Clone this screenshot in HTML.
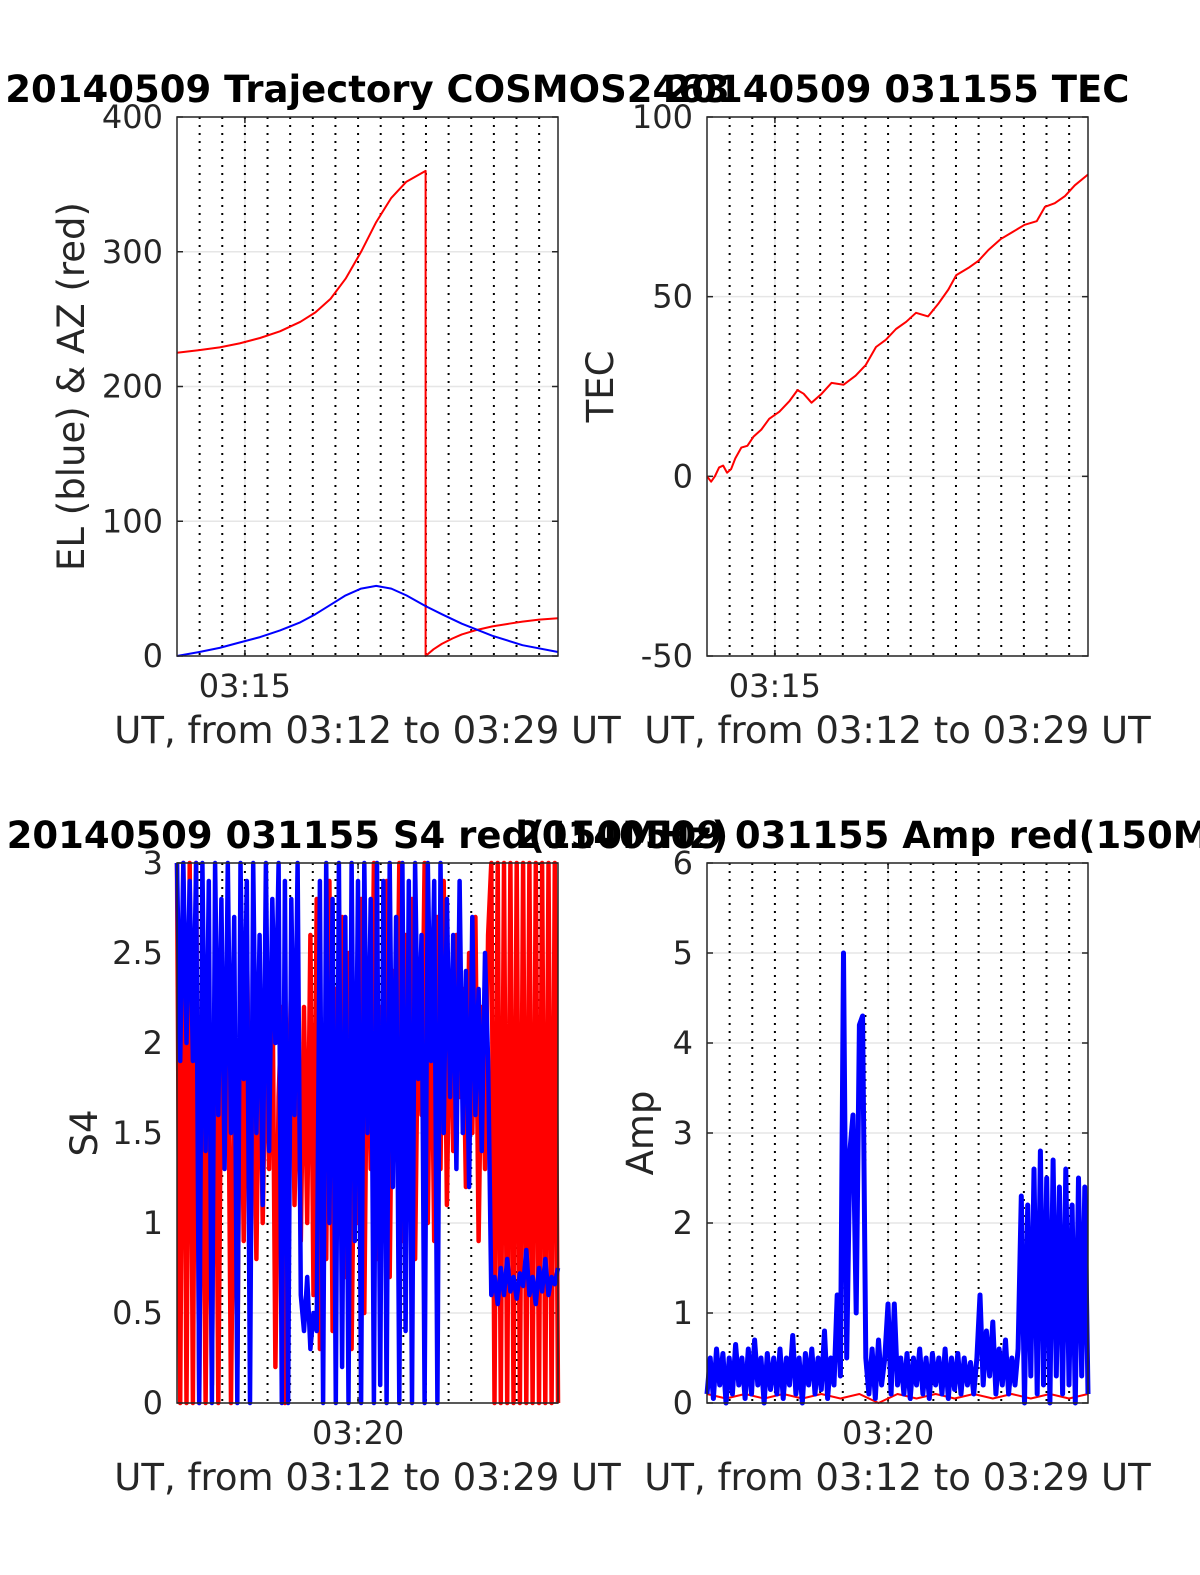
<!DOCTYPE html>
<html><head><meta charset="utf-8"><style>
html,body{margin:0;padding:0;background:#fff;overflow:hidden;width:1200px;height:1575px;}
svg{display:block;font-family:"DejaVu Sans","Liberation Sans",sans-serif;}
</style></head><body>
<svg id="fig" width="1200" height="1575" viewBox="0 0 1200 1575">
<rect x="0" y="0" width="1200" height="1575" fill="#fff"/>
</svg>
<script>
// ---------- data ----------
var trajTimes=[0,59,113,166,220,273,327,367,407,447,488,528,568,608,659,659,680,702,730,755,790,836,880,916,960,1010];
var azValues=[225,227,229,232,236,241,248,255,265,280,300,322,340,352,360,0,5,9,13,16,19,22,24,25.5,27,28];
var elTimes=[0,59,113,166,220,273,327,367,407,447,488,528,568,608,659,702,755,836,916,1010];
var elValues=[0,3,6,10,14,19,25,31,38,45,50,52,50,45,37,31,24,15,8,3];
var tecTimes=[0,11,21,32,43,53,64,75,91,107,123,144,165,192,219,240,256,277,304,330,362,394,421,448,474,501,528,554,586,613,640,661,693,720,746,778,810,842,874,896,922,949,975,1010];
var tecValues=[0,-1.5,0,2.5,3,1,2,5,8,8.5,11,13,16,18,21,24,23,20.5,23,26,25.5,28,31,36,38,41,43,45.5,44.5,48,52,56,58,60,63,66,68,70,71,75,76,78,81,84];
var s4Red=[3,0,3,0,3,0,3,
0,2.2,0,1.9,0.1,2.5,0,2.1,1.4,2.3,0,1.8,0.2,
2.4,0.9,2.6,1.2,2.0,0.8,2.3,1.0,2.1,1.3,2.5,0.2,1.7,2.2,0,1.5,2.4,
1.1,2.0,0.9,2.2,1.0,2.6,
0.6,2.8,0.3,2.0,0.8,2.9,0.4,2.3,1.2,2.7,0.7,2.5,0.3,1.9,1.0,2.8,0.5,2.4,1.3,3,0.8,2.2,
1.0,2.9,0.7,2.4,1.5,3,0.9,2.6,1.2,2.8,0.8,2.3,1.6,3,1.0,2.5,0.9,2.7,1.3,2.9,1.1,2.4,
1.4,2.6,1.7,2.3,1.2,2.5,1.5,2.7,0.9,2.2,1.3,2.6,
3,0,3,0,3,0,3,0,3,0,3,0,3,0,3,0,3,0,3,0,3,0];
var s4Blue=[3,1.9,3,2.0,2.9,1.9,3,
0,3,1.4,2.9,0,3,1.6,2.8,1.3,3,1.5,2.7,0,
3,1.8,2.9,0,3,1.5,2.6,1.1,3,1.4,2.8,2.0,3,0,2.9,0,2.8,
1.6,3,0.6,0.4,0.7,0.3,
0.5,0.4,2.9,0,3,1.0,2.8,0,3,0.2,2.7,0,3,0.9,2.9,0,3,1.5,2.8,0,3,0.1,
2.9,0,3,1.2,2.7,0,3,0.4,2.9,0,3,1.8,2.6,0,3,1.9,2.9,0,3,1.5,2.8,1.7,
2.6,1.3,2.9,1.5,2.4,1.2,2.7,1.6,2.3,1.4,2.5,1.9,
0.6,0.7,0.55,0.75,0.6,0.8,0.62,0.7,0.58,0.72,0.65,0.85,0.6,0.7,0.55,0.75,0.62,0.8,0.6,0.7,0.66,0.75];
var ampBlue=[0.1,0.5,0.05,0.6,0.2,0.55,0,0.5,0.1,0.65,0.2,0.5,0.05,0.6,0.1,0.7,0.2,0.5,0,0.55,0.15,0.5,0.1,0.6,0.05,0.5,0.2,0.75,0.1,0.5,0,0.55,0.2,0.6,0.1,0.5,0.15,0.8,0.05,0.5,0.2,
1.2,0.3,5.0,0.5,2.8,3.2,1.0,4.2,4.3,0.5,
0.1,0.6,0.05,0.7,0.2,0.5,
1.1,0.1,1.1,0.2,
0.5,0.1,0.55,0.05,0.5,0.2,0.6,0.1,0.5,0.05,0.55,0.2,0.5,0.1,0.6,0.05,0.5,0.15,0.55,0.1,0.5,0.2,0.45,0.1,0.5,
1.2,0.2,0.8,
0.3,0.9,0.1,0.6,0.2,0.7,0.1,
0.5,0.2,0.6,
2.3,0,2.2,0.3,2.6,0.1,2.8,0.2,2.5,0,2.7,0.3,2.4,0.1,2.6,0.2,2.2,0,2.5,0.3,2.4,0.1];
var ampRed=[0.1,0.05,0.1,0.05,0.1,0.05,0.1,0.05,0.1,0,0.1,0.05,0.1,0.05,0.1,0.05,0.1,0.05,0.1,0.05,0.1];
var minuteTicks=[60,120,180,240,300,360,420,480,540,600,660,720,780,840,900,960];
var trajYTicks=[0,100,200,300,400];
var tecYTicks=[-50,0,50,100];
var s4YTicks=[0,0.5,1,1.5,2,2.5,3];
var s4YLabels=["0","0.5","1","1.5","2","2.5","3"];
var ampYTicks=[0,1,2,3,4,5,6];
// ---------- helpers ----------
var NS="http://www.w3.org/2000/svg";
var fig=document.getElementById('fig');
var T0=0,T1=1010;
function mk(tag,attrs,parent){var e=document.createElementNS(NS,tag);for(var k in attrs)e.setAttribute(k,attrs[k]);(parent||fig).appendChild(e);return e;}
function makeAxes(o){
  var g=mk('g',{});
  
  
  var xs=function(t){return o.x0+(t-T0)/(T1-T0)*(o.x1-o.x0);};
  var ys=function(v){return o.y1-(v-o.ymin)/(o.ymax-o.ymin)*(o.y1-o.y0);};
  o.xs=xs;o.ys=ys;o.g=g;
  o.yticks.forEach(function(v,i){
    var y=ys(v);
    var l=mk('line',{x1:o.x0,x2:o.x1,y1:y,y2:y,stroke:'#e6e6e6','stroke-width':1.5},g);
    
    
    var tl=mk('line',{x1:o.x0,x2:o.x0+6,y1:y,y2:y,stroke:'#262626','stroke-width':1.5},g);
    
    
    var tr=mk('line',{x1:o.x1,x2:o.x1-6,y1:y,y2:y,stroke:'#262626','stroke-width':1.5},g);
    
    
    var t=mk('text',{x:o.x0-14,y:y+11,'text-anchor':'end','font-size':32,fill:'#262626'},g);
    
    
    t.textContent=o.ylabels?o.ylabels[i]:String(v);
  });
  var xt=xs(o.xtick);
  var xg=mk('line',{x1:xt,x2:xt,y1:o.y0,y2:o.y1,stroke:'#e6e6e6','stroke-width':1.5},g);
  
  
  minuteTicks.forEach(function(m){
    var x=xs(m);
    var d=mk('line',{x1:x,x2:x,y1:o.y0,y2:o.y1,stroke:'#000','stroke-width':2,'stroke-dasharray':'2 6'},g);
    
    
  });
  var xtb=mk('line',{x1:xt,x2:xt,y1:o.y1,y2:o.y1-6,stroke:'#262626','stroke-width':1.5},g);
  
  
  var xtt=mk('line',{x1:xt,x2:xt,y1:o.y0,y2:o.y0+6,stroke:'#262626','stroke-width':1.5},g);
  
  
  var xl=mk('text',{x:xt,y:o.y1+41,'text-anchor':'middle','font-size':32,fill:'#262626'},g);
  
  
  xl.textContent=o.xticklabel;
  var xa=mk('text',{x:(o.x0+o.x1)/2,y:o.y1+87,'text-anchor':'middle','font-size':37,fill:'#262626'});
  
  
  xa.textContent='UT, from 03:12 to 03:29 UT';
  var ya=mk('text',{x:0,y:0,'text-anchor':'middle','font-size':37,fill:'#262626',transform:'translate('+o.ylx+','+((o.y0+o.y1)/2)+') rotate(-90)'});
  
  
  ya.textContent=o.ylabel;
  var ti=mk('text',{x:(o.x0+o.x1)/2,y:o.y0-15,'text-anchor':'middle','font-size':37,'font-weight':'bold',fill:'#000'});
  
  
  ti.textContent=o.title;
  o.plot=mk('g',{});
  
  
  return o;
}
function frame(o){
  var b=mk('rect',{x:o.x0,y:o.y0,width:o.x1-o.x0,height:o.y1-o.y0,fill:'none',stroke:'#262626','stroke-width':1.5});
  
  
}
function lineT(o,times,vals,color,w,name){
  var pts=times.map(function(t,i){return o.xs(t).toFixed(1)+','+o.ys(vals[i]).toFixed(1);}).join(' ');
  var p=mk('polyline',{points:pts,fill:'none',stroke:color,'stroke-width':w,'stroke-linejoin':'round'},o.plot);
  
  
}
function lineU(o,vals,color,w,name){
  var n=vals.length;
  var times=vals.map(function(v,i){return T0+i*(T1-T0)/(n-1);});
  lineT(o,times,vals,color,w,name);
}
// ---------- charts ----------
var a1=makeAxes({name:'trajectory-chart',x0:177,x1:558,y0:117,y1:656,ymin:0,ymax:400,yticks:trajYTicks,xtick:180,xticklabel:'03:15',ylabel:'EL (blue) & AZ (red)',ylx:84,title:'20140509 Trajectory COSMOS2463'});
lineT(a1,trajTimes,azValues,'#ff0000',2,'azimuth-line');
lineT(a1,elTimes,elValues,'#0000ff',2,'elevation-line');
frame(a1);
var a2=makeAxes({name:'tec-chart',x0:707,x1:1088,y0:117,y1:656,ymin:-50,ymax:100,yticks:tecYTicks,xtick:180,xticklabel:'03:15',ylabel:'TEC',ylx:613,title:'20140509 031155 TEC'});
lineT(a2,tecTimes,tecValues,'#ff0000',2,'tec-line');
frame(a2);
var a3=makeAxes({name:'s4-chart',x0:177,x1:558,y0:863,y1:1403,ymin:0,ymax:3,yticks:s4YTicks,ylabels:s4YLabels,xtick:480,xticklabel:'03:20',ylabel:'S4',ylx:97,title:'20140509 031155 S4 red(150MHz)'});
lineU(a3,s4Red,'#ff0000',4.5,'s4-red-line');
lineU(a3,s4Blue,'#0000ff',4.5,'s4-blue-line');
frame(a3);
var a4=makeAxes({name:'amp-chart',x0:707,x1:1088,y0:863,y1:1403,ymin:0,ymax:6,yticks:ampYTicks,xtick:480,xticklabel:'03:20',ylabel:'Amp',ylx:653,title:'20140509 031155 Amp red(150MHz)'});
lineU(a4,ampRed,'#ff0000',2,'amp-red-line');
lineU(a4,ampBlue,'#0000ff',5,'amp-blue-line');
frame(a4);
</script>
</body></html>
